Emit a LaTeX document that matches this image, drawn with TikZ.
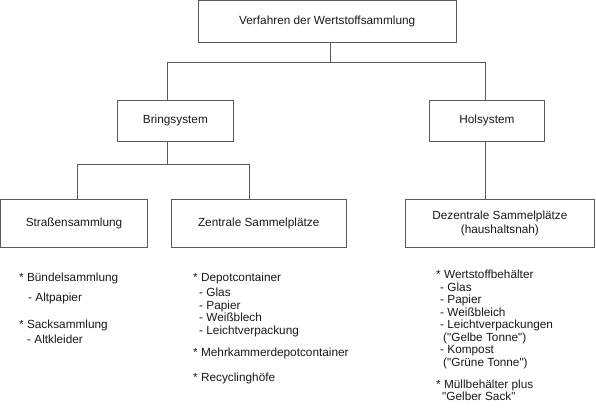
\documentclass[tikz,border=0pt]{standalone}
\usepackage{fontspec}
\setmainfont{Liberation Sans}
\newfontfamily\lsans{Liberation Sans}
\begin{document}
\begin{tikzpicture}[x=1pt,y=-1pt,
  box/.style={draw=black!65, line width=0.9pt, inner sep=0pt, align=center, font=\lsans\fontsize{11.8}{14}\selectfont, text=black!90},
  conn/.style={draw=black!65, line width=0.9pt},
  item/.style={anchor=base west, inner sep=0pt, font=\lsans\fontsize{11.8}{13}\selectfont, text=black!90}]
\useasboundingbox (0,0) rectangle (596,408);
% boxes
\node[box, minimum width=257.7pt, minimum height=41.8pt] (top) at (327.2,21.4) {Verfahren der Wertstoffsammlung};
\node[box, minimum width=115.3pt, minimum height=41pt] (bring) at (175.4,120.5) {Bringsystem};
\node[box, minimum width=115.7pt, minimum height=41pt] (hol) at (486.9,120.5) {Holsystem};
\node[box, minimum width=146.6pt, minimum height=47.5pt] (stra) at (74,223.3) {Straßensammlung};
\node[box, minimum width=174.7pt, minimum height=47.5pt] (zent) at (258.7,223.3) {Zentrale Sammelplätze};
\node[box, minimum width=189.7pt, minimum height=48pt] (dez) at (499.9,223) {Dezentrale Sammelplätze\\(haushaltsnah)};
% junctions
\coordinate (j1) at (330,62.3);
\coordinate (bx) at (167.7,0);
\coordinate (hx) at (485,0);
\coordinate (j2) at (167.7,164.3);
\coordinate (sx) at (77.3,0);
\coordinate (zx) at (249.4,0);
% connectors
\draw[conn] (j1 |- top.south) -- (j1);
\draw[conn] (bx |- bring.north) -- (bx |- j1) -- (hx |- j1) -- (hx |- hol.north);
\draw[conn] (bx |- bring.south) -- (j2);
\draw[conn] (sx |- stra.north) -- (sx |- j2) -- (zx |- j2) -- (zx |- zent.north);
\draw[conn] (hx |- hol.south) -- (hx |- dez.north);
% left list
\node[item] (l1) at (19,281) {* Bündelsammlung};
\node[item] (l2) at (28,301.2) {- Altpapier};
\node[item] (l3) at (19,328.2) {* Sacksammlung};
\node[item] (l4) at (27,343) {- Altkleider};
% middle list
\node[item] (m1) at (193,281.2) {* Depotcontainer};
\node[item] (m2) at (199,296.2) {- Glas};
\node[item] (m3) at (199,309.2) {- Papier};
\node[item] (m4) at (199,321.2) {- Weißblech};
\node[item] (m5) at (199,334.2) {- Leichtverpackung};
\node[item] (m6) at (193,356.2) {* Mehrkammerdepotcontainer};
\node[item] (m7) at (193,381.2) {* Recyclinghöfe};
% right list
\node[item] (r1) at (436,278.2) {* Wertstoffbehälter};
\node[item] (r2) at (440,291.2) {- Glas};
\node[item] (r3) at (440,303.2) {- Papier};
\node[item] (r4) at (440,316.2) {- Weißbleich};
\node[item] (r5) at (440,328.2) {- Leichtverpackungen};
\node[item] (r6) at (443,341.2) {("Gelbe Tonne")};
\node[item] (r7) at (440,353.2) {- Kompost};
\node[item] (r8) at (443,366.2) {("Grüne Tonne")};
\node[item] (r9) at (436,388.2) {* Müllbehälter plus};
\node[item] (r10) at (442,400.2) {"Gelber Sack"};
\end{tikzpicture}
\end{document}
